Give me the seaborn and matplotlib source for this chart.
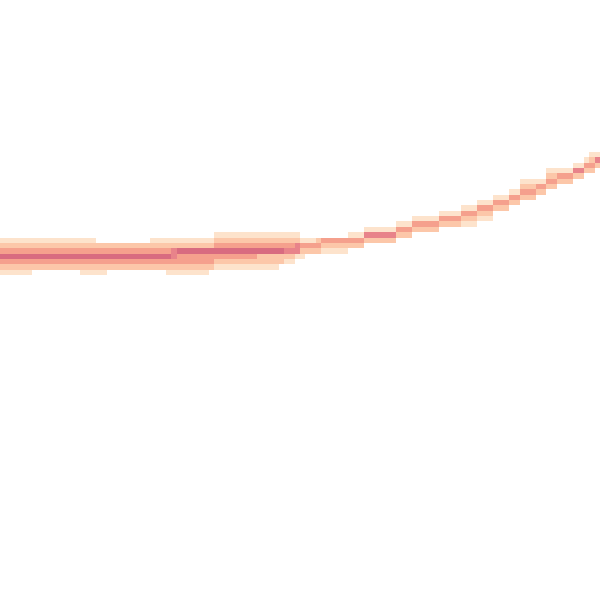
import numpy as np
import matplotlib
matplotlib.use("Agg")
import matplotlib.pyplot as plt
import seaborn as sns

# Colour levels of the cells (1 = lightest ... 5 = darkest)
level_colors = ["#fde3cc", "#fcc7a9", "#f5a08d", "#e8838a", "#d86b80"]

# Column runs: how many grid columns, the lowest filled row,
# and the level of each filled cell going upward from that row.
# Flat, dense part (left half)
left_widths = [6, 9, 3, 2, 8, 3, 1, 1, 6, 1, 8, 4, 1, 2, 1]
left_bottom_rows = [0, 1, 0, 0, 1, 1, 0, 0, 0, 1, 1, 1, 2, 2, 3]
left_levels = ["1235321", "235321", "1235321", "123532", "23532", "235321", "1235321",
               "1234421", "1233521", "233521", "1235321", "1225321", "225321", "124321",
               "14421"]
# Rising, thin part (right half)
right_widths = [1, 2, 1, 5, 3, 6, 3, 5, 4, 3, 3, 3, 2, 3, 2, 2, 3, 2, 1, 1, 1]
right_bottom_rows = [3, 4, 4, 4, 5, 6, 7, 8, 9, 9, 10, 12, 13, 14, 15, 16, 17, 18, 19, 19, 20]
right_levels = ["1231", "231", "232", "123", "231", "241", "231", "231", "231", "1231",
                "1231", "231", "231", "2321", "231", "2321", "231", "241", "231", "2321",
                "241"]

run_widths = left_widths + right_widths
run_bottom_rows = left_bottom_rows + right_bottom_rows
run_levels = left_levels + right_levels

n_rows = 23
n_cols = int(np.sum(run_widths))

grid = np.zeros((n_rows, n_cols))
col = 0
for w, b, s in zip(run_widths, run_bottom_rows, run_levels):
    for c in range(col, col + w):
        for j, ch in enumerate(s):
            grid[b + j, c] = int(ch)
    col += w

matrix = grid[::-1]  # heatmap draws the first row at the top

fig = plt.figure(figsize=(6, 6), dpi=100)
cell = 600 / n_cols
band_bottom_px = 275
ax = fig.add_axes([0, (600 - band_bottom_px) / 600, 1, n_rows * cell / 600])
cmap = sns.blend_palette(level_colors, as_cmap=True)
sns.heatmap(matrix, mask=(matrix == 0), cmap=cmap, vmin=1, vmax=5, cbar=False,
            xticklabels=False, yticklabels=False, linewidths=0, ax=ax)
ax.set_axis_off()
fig.savefig("out.png", dpi=100, facecolor="white")
